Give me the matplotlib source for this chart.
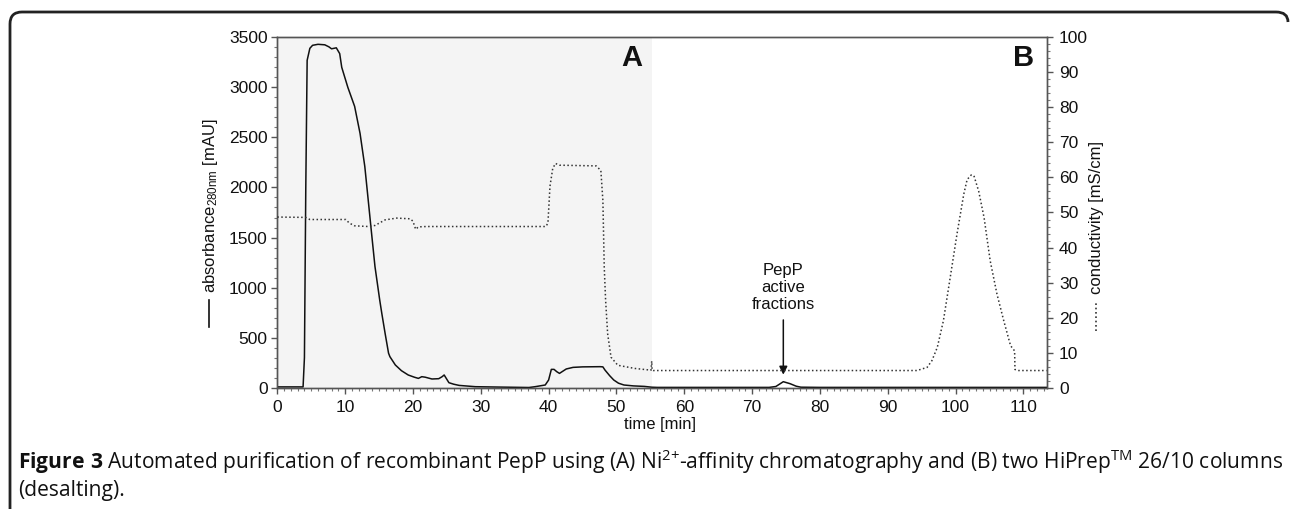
import matplotlib
matplotlib.use("Agg")
import matplotlib.pyplot as plt
from matplotlib.lines import Line2D
from matplotlib.path import Path
from matplotlib.patches import PathPatch
from matplotlib.ticker import MultipleLocator

# ---------------- data ----------------
time_abs = [0, 3.8, 4.0, 4.2, 4.4, 4.8, 5.2, 6, 7, 7.6, 8.0, 8.7, 9.2, 9.5, 10.4, 11.4,
            12.2, 12.9, 13.4, 13.9, 14.4, 15.1, 15.4, 15.9, 16.4, 16.6, 17.4, 18.3, 19.3,
            20.2, 20.8, 21.3, 21.8, 22.8, 23.8, 24.3, 24.6, 25.3, 26.0, 26.8, 29.2, 33,
            37.1, 38, 39.5, 40.0, 40.4, 40.8, 41.2, 41.6, 42.6, 43.6, 45, 47.6, 48.0, 48.3,
            49.0, 49.6, 50.3, 51.1, 52.5, 54.1, 55.2, 56, 65, 72.5, 73.5, 74.6, 75.6, 76.5,
            77.2, 80, 100, 113.4]
absorbance = [8, 8, 300, 2000, 3270, 3390, 3420, 3430, 3425, 3405, 3385, 3395, 3337, 3200,
              3000, 2810, 2540, 2210, 1876, 1540, 1210, 875, 745, 540, 345, 310, 227, 170,
              127, 105, 93, 110, 105, 87, 90, 110, 127, 50, 35, 23, 10, 6, 2, 10, 27, 77,
              183, 183, 160, 143, 187, 203, 208, 210, 208, 177, 120, 77, 45, 27, 18, 13, 5,
              3, 3, 3, 12, 60, 40, 15, 5, 3, 3, 3]

time_cond = [0, 4.2, 4.8, 10.1, 10.6, 11.4, 13.4, 14.4, 15.9, 17.6, 19.6, 20.0, 20.4, 20.8,
             22, 39.6, 39.9, 40.2, 40.6, 41.0, 41.6, 47.0, 47.7, 48.0, 48.2, 48.4, 48.7,
             49.2, 50.2, 52.7, 55.1, 55.2, 55.25, 55.4, 56, 94.3, 95.8, 96.5, 97.3, 98.2,
             99.2, 100.2, 101.2, 101.7, 102.3, 102.7, 103.4, 104.2, 105.1, 106.1, 107.1,
             108.1, 108.7, 108.75, 109.3, 113.4]
conductivity = [48.7, 48.6, 48.0, 48.0, 47.0, 46.2, 46.0, 46.3, 47.9, 48.4, 48.2, 47.5, 45.2,
                45.9, 46.0, 46.0, 47.0, 57.5, 62.5, 64.0, 63.5, 63.3, 62.0, 53.4, 34.4, 25,
                15.4, 8.7, 6.4, 5.5, 5.0, 7.6, 5.0, 4.9, 4.9, 4.9, 5.8, 7.7, 11.5, 19.1, 31.4,
                43.8, 55.2, 59.4, 60.7, 60.5, 56.1, 48.5, 36.2, 26.7, 19.1, 12.0, 10.5, 5.2,
                4.9, 4.9]

x_ticks = list(range(0, 111, 10))
y_left_ticks = list(range(0, 3501, 500))
y_right_ticks = list(range(0, 101, 10))
phase_A_end = 55.2
arrow_time = 74.6

caption_line1 = (r"$\mathbf{Figure\ 3}$ Automated purification of recombinant PepP using (A) Ni"
                 r"$^{2{+}}$-affinity chromatography and (B) two HiPrep"
                 r"$^{TM}$ 26/10 columns")
caption_line2 = "(desalting)."

# ---------------- style ----------------
plt.rcParams['font.family'] = ['Liberation Sans', 'DejaVu Sans']
plt.rcParams['mathtext.fontset'] = 'custom'
plt.rcParams['mathtext.default'] = 'rm'
plt.rcParams['mathtext.rm'] = 'Open Sans'
plt.rcParams['mathtext.it'] = 'Open Sans'
plt.rcParams['mathtext.sf'] = 'Liberation Sans'
plt.rcParams['mathtext.bf'] = 'Open Sans:bold'

W, H = 1290, 509
fig = plt.figure(figsize=(W / 100, H / 100), dpi=100)

def fx(px):
    return px / W

def fy(py):
    return 1 - py / H

ax = fig.add_axes([fx(277.3), fy(387.7), fx(1046.5) - fx(277.3), fy(37.3) - fy(387.7)])
ax2 = ax.twinx()

ax.axvspan(0, phase_A_end, color='#f4f4f4', zorder=0, lw=0)
ax.plot(time_abs, absorbance, color='#111111', lw=1.1, zorder=3)
ax2.plot(time_cond, conductivity, color='#333333', lw=1.1, linestyle=(0, (1, 1.6)), zorder=3)

ax.set_xlim(0, 113.4)
ax.set_ylim(0, 3500)
ax2.set_ylim(0, 100)
ax.set_xticks(x_ticks)
ax.set_yticks(y_left_ticks)
ax2.set_yticks(y_right_ticks)
ax.xaxis.set_minor_locator(MultipleLocator(1))
ax.yaxis.set_minor_locator(MultipleLocator(100))
ax2.yaxis.set_minor_locator(MultipleLocator(2))

for a in (ax, ax2):
    for s in a.spines.values():
        s.set_color('#555555')
        s.set_linewidth(1.0)
ax.tick_params(axis='both', which='major', direction='out', length=4, width=1,
               color='#555555', labelsize=12.5, labelcolor='#111111')
ax.tick_params(axis='both', which='minor', direction='out', length=2, width=0.8,
               color='#777777')
ax.tick_params(axis='x', pad=5)
ax.tick_params(axis='y', pad=3)
ax2.tick_params(axis='y', which='major', direction='out', length=4, width=1,
                color='#555555', labelsize=12.5, labelcolor='#111111', pad=5)
ax2.tick_params(axis='y', which='minor', direction='out', length=2, width=0.8,
                color='#777777')

# panel letters
fig.text(fx(642), fy(66), 'A', fontsize=21, fontweight='bold', ha='right', va='baseline',
         color='#111111')
fig.text(fx(1034.5), fy(66), 'B', fontsize=21, fontweight='bold', ha='right', va='baseline',
         color='#111111')

# annotation
ax.annotate('PepP\nactive\nfractions', xy=(arrow_time, 130), xytext=(arrow_time, 760),
            ha='center', va='bottom', fontsize=12, color='#111111', linespacing=1.15,
            arrowprops=dict(arrowstyle='-|>', color='#111111', lw=1.1,
                            mutation_scale=12, shrinkA=4, shrinkB=0), zorder=5)

# axis labels
fig.text(fx(660), fy(425), 'time [min]', fontsize=12, ha='center', va='center',
         color='#111111')
fig.text(fx(211), fy(293), r'absorbance$_{\mathsf{280nm}}$ [mAU]', fontsize=12,
         rotation=90, ha='center', va='bottom', color='#111111')
fig.add_artist(Line2D([fx(209), fx(209)], [fy(327), fy(300)], color='#111111', lw=1.2))
fig.text(fx(1097), fy(294), 'conductivity [mS/cm]', fontsize=12, rotation=90,
         ha='center', va='bottom', color='#111111')
fig.add_artist(Line2D([fx(1096), fx(1096)], [fy(331), fy(302)], color='#333333', lw=1.2,
                      linestyle=(0, (1, 1.6))))

# caption (fitted to measured width)
cap1 = fig.text(fx(18), fy(469), caption_line1, fontsize=13, family='Open Sans',
                ha='left', va='baseline', color='#111111')
fig.canvas.draw()
r = fig.canvas.get_renderer()
w = cap1.get_window_extent(r).width
fs = 13 * (1281 - 18) / w
cap1.set_fontsize(fs)
fig.text(fx(18), fy(496), caption_line2, fontsize=fs, family='Open Sans',
         ha='left', va='baseline', color='#111111')

# frame (open at bottom, rounded top corners)
pts = [(fx(10), fy(509)), (fx(10), fy(24)), (fx(10), fy(12)), (fx(22), fy(12)),
       (fx(1276), fy(12)), (fx(1288), fy(12)), (fx(1288), fy(22))]
codes = [Path.MOVETO, Path.LINETO, Path.CURVE3, Path.CURVE3, Path.LINETO,
         Path.CURVE3, Path.CURVE3]
fig.add_artist(PathPatch(Path(pts, codes), transform=fig.transFigure, fill=False,
                         edgecolor='#222222', lw=2))

fig.savefig('out.png', dpi=100)
